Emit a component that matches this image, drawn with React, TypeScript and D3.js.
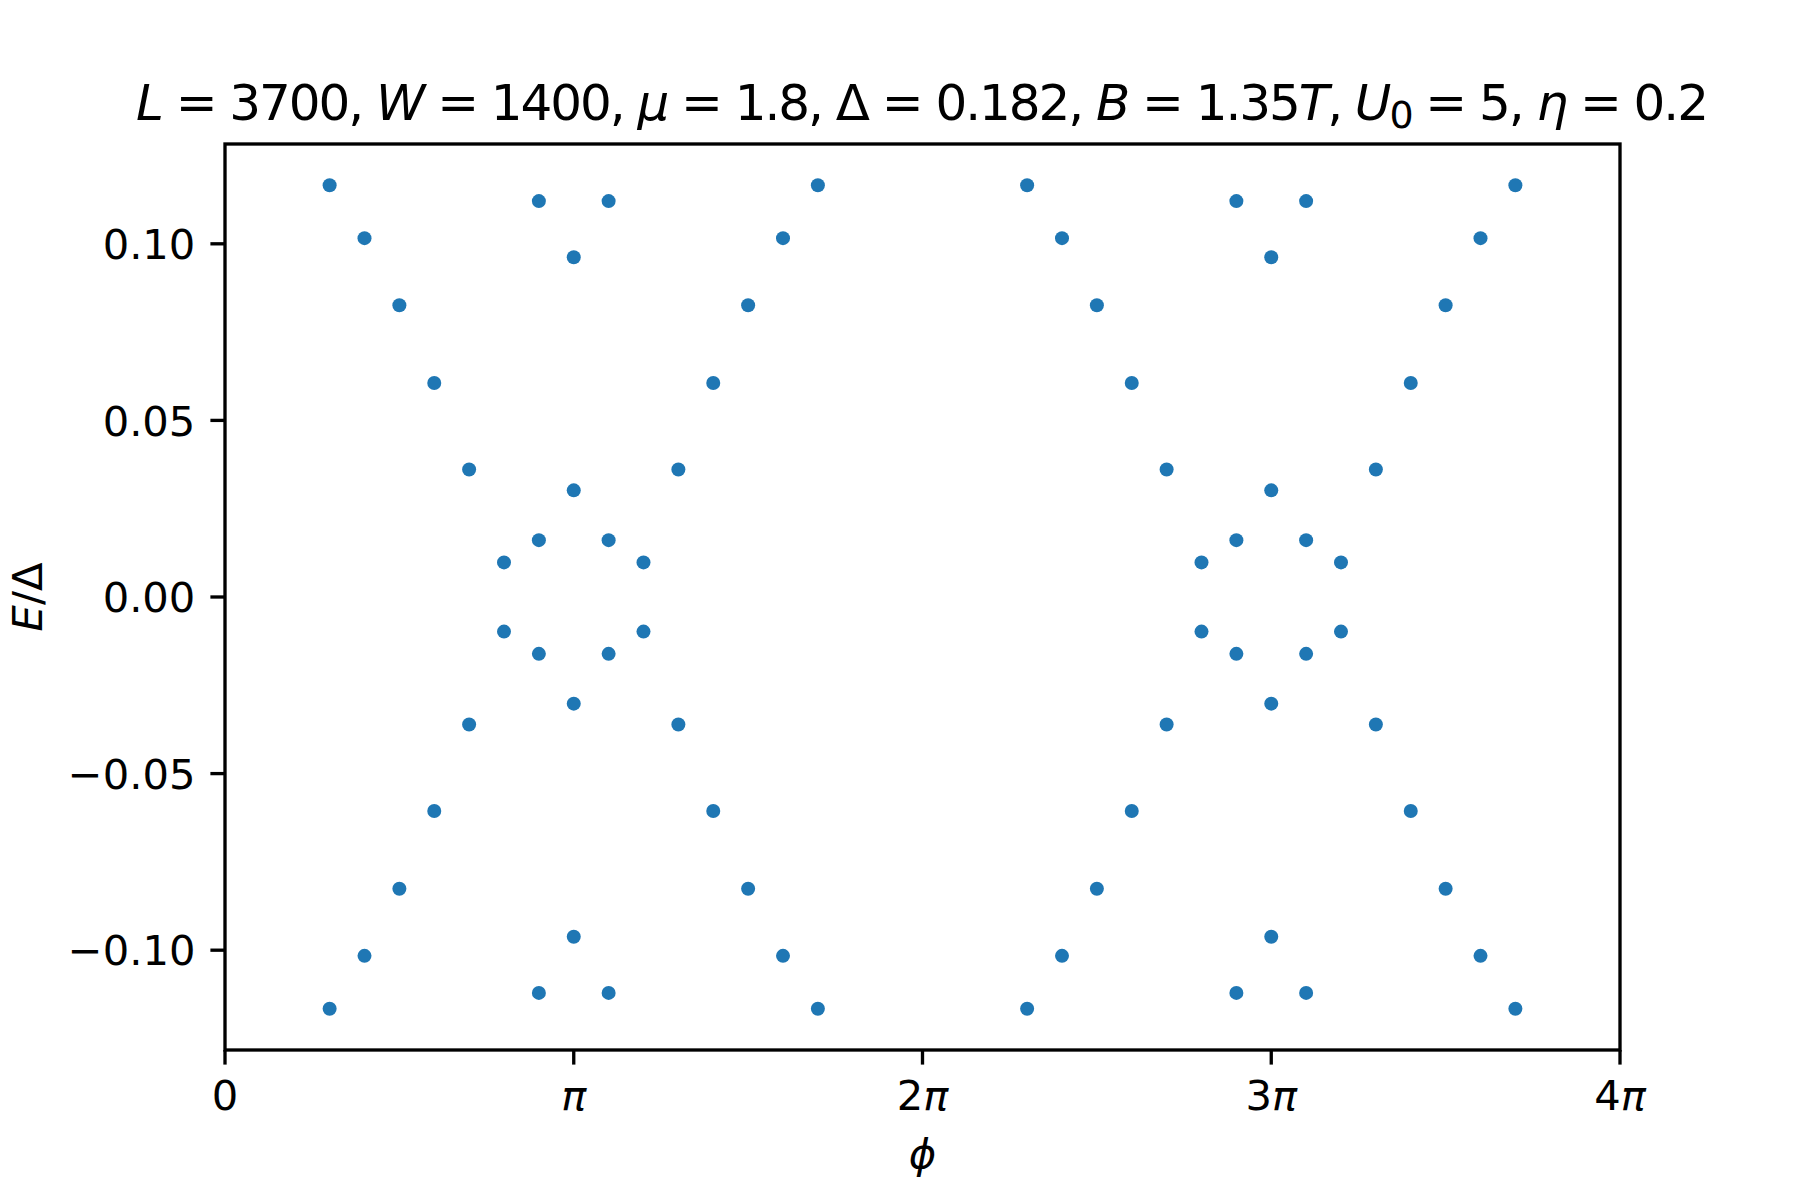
import React from "react";
import * as d3 from "d3";

// phase (in units of pi) and energy E/Δ for every plotted level
const phiOverPi = [
  0.3, 0.3, 0.4, 0.4, 0.5, 0.5, 0.6, 0.6, 0.7, 0.7, 0.8, 0.8,
  0.9, 0.9, 0.9, 0.9, 1.0, 1.0, 1.0, 1.0, 1.1, 1.1, 1.1, 1.1,
  1.2, 1.2, 1.3, 1.3, 1.4, 1.4, 1.5, 1.5, 1.6, 1.6, 1.7, 1.7,
  2.3, 2.3, 2.4, 2.4, 2.5, 2.5, 2.6, 2.6, 2.7, 2.7, 2.8, 2.8,
  2.9, 2.9, 2.9, 2.9, 3.0, 3.0, 3.0, 3.0, 3.1, 3.1, 3.1, 3.1,
  3.2, 3.2, 3.3, 3.3, 3.4, 3.4, 3.5, 3.5, 3.6, 3.6, 3.7, 3.7,
];
const energy = [
  0.1166, -0.1166, 0.1016, -0.1016, 0.0826, -0.0826, 0.0606, -0.0606, 0.0361, -0.0361, 0.0098, -0.0098,
  0.1121, 0.0161, -0.0161, -0.1121, 0.0962, 0.0302, -0.0302, -0.0962, 0.1121, 0.0161, -0.0161, -0.1121,
  0.0098, -0.0098, 0.0361, -0.0361, 0.0606, -0.0606, 0.0826, -0.0826, 0.1016, -0.1016, 0.1166, -0.1166,
  0.1166, -0.1166, 0.1016, -0.1016, 0.0826, -0.0826, 0.0606, -0.0606, 0.0361, -0.0361, 0.0098, -0.0098,
  0.1121, 0.0161, -0.0161, -0.1121, 0.0962, 0.0302, -0.0302, -0.0962, 0.1121, 0.0161, -0.0161, -0.1121,
  0.0098, -0.0098, 0.0361, -0.0361, 0.0606, -0.0606, 0.0826, -0.0826, 0.1016, -0.1016, 0.1166, -0.1166,
];

const xTickMultiples = [0, 1, 2, 3, 4];
const xTickPrefixes = ["0", "", "2", "3", "4"];
const yTicks = [-0.1, -0.05, 0, 0.05, 0.1];

const FONT = "DejaVu Sans, Liberation Sans, sans-serif";
const COLOR = "#1f77b4";

export default function App() {
  const W = 1800;
  const H = 1200;
  const left = 225, right = 1620, top = 144, bottom = 1050;

  const x = d3.scaleLinear().domain([0, 4 * Math.PI]).range([left, right]);
  const [eMin, eMax] = d3.extent(energy) as [number, number];
  const pad = (eMax - eMin) * 0.05;
  const y = d3.scaleLinear().domain([eMin - pad, eMax + pad]).range([bottom, top]);

  const lw = 3.33;
  const tickLen = 14.6;
  const fs = 41.67;

  const fmt = (v: number) => {
    const s = d3.format(".2f")(Math.abs(v));
    return (v < -1e-9 ? "\u2212" : "") + s;
  };

  return (
    <svg
      width={W}
      height={H}
      viewBox={`0 0 ${W} ${H}`}
      style={{ position: "absolute", left: 0, top: 0, background: "#fff" }}
    >
      <rect x={0} y={0} width={W} height={H} fill="#fff" />

      {/* title */}
      <text
        x={(left + right) / 2}
        y={120}
        textAnchor="middle"
        fontFamily={FONT}
        fontSize={50}
        textLength={1573}
        lengthAdjust="spacing"
        fill="#000"
      >
        <tspan fontStyle="italic">L</tspan>
        <tspan>{" = 3700, "}</tspan>
        <tspan fontStyle="italic">W</tspan>
        <tspan>{" = 1400, "}</tspan>
        <tspan fontStyle="italic">μ</tspan>
        <tspan>{" = 1.8, Δ = 0.182, "}</tspan>
        <tspan fontStyle="italic">B</tspan>
        <tspan>{" = 1.35"}</tspan>
        <tspan fontStyle="italic">T</tspan>
        <tspan>{", "}</tspan>
        <tspan fontStyle="italic">U</tspan>
        <tspan fontSize={38} dy={8}>0</tspan>
        <tspan dy={-8}>{" = 5, "}</tspan>
        <tspan fontStyle="italic">η</tspan>
        <tspan>{" = 0.2"}</tspan>
      </text>

      {/* points */}
      <g>
        {phiOverPi.map((p, i) => (
          <circle key={i} cx={x(p * Math.PI)} cy={y(energy[i])} r={7} fill={COLOR} />
        ))}
      </g>

      {/* spines */}
      <rect
        x={left}
        y={top}
        width={right - left}
        height={bottom - top}
        fill="none"
        stroke="#000"
        strokeWidth={lw}
      />

      {/* x ticks */}
      {xTickMultiples.map((m, i) => {
        const px = x(m * Math.PI);
        return (
          <g key={"xt" + i}>
            <line x1={px} x2={px} y1={bottom} y2={bottom + tickLen} stroke="#000" strokeWidth={lw} />
            <text x={px} y={1110} textAnchor="middle" fontFamily={FONT} fontSize={fs} fill="#000">
              <tspan>{xTickPrefixes[i]}</tspan>
              {m > 0 ? <tspan fontStyle="italic">π</tspan> : null}
            </text>
          </g>
        );
      })}

      {/* y ticks */}
      {yTicks.map((v, i) => {
        const py = y(v);
        return (
          <g key={"yt" + i}>
            <line x1={left - tickLen} x2={left} y1={py} y2={py} stroke="#000" strokeWidth={lw} />
            <text
              x={left - tickLen - 15}
              y={py + 15.2}
              textAnchor="end"
              fontFamily={FONT}
              fontSize={fs}
              fill="#000"
            >
              {fmt(v)}
            </text>
          </g>
        );
      })}

      {/* axis labels */}
      <text
        x={(left + right) / 2}
        y={1168}
        textAnchor="middle"
        fontFamily={FONT}
        fontSize={fs}
        fontStyle="italic"
        fill="#000"
      >
        ϕ
      </text>
      <text
        transform={`translate(42, ${(top + bottom) / 2}) rotate(-90)`}
        textAnchor="middle"
        fontFamily={FONT}
        fontSize={fs}
        fill="#000"
      >
        <tspan fontStyle="italic">E</tspan>
        <tspan>/Δ</tspan>
      </text>
    </svg>
  );
}
